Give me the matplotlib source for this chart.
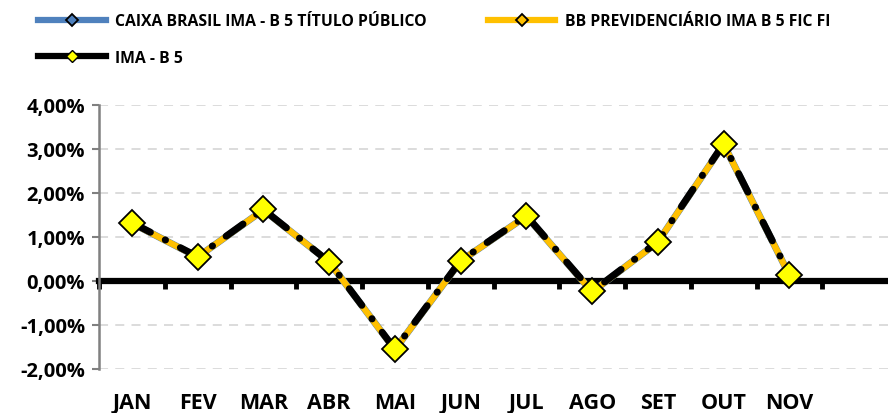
import matplotlib.pyplot as plt
from matplotlib.lines import Line2D
from matplotlib.ticker import FuncFormatter, FixedLocator
import matplotlib.transforms as mtransforms

plt.rcParams['font.family'] = ['Open Sans', 'DejaVu Sans']
plt.rcParams['font.weight'] = 'bold'

# data (monthly returns, %)
months = ['JAN', 'FEV', 'MAR', 'ABR', 'MAI', 'JUN', 'JUL', 'AGO', 'SET', 'OUT', 'NOV']
caixa = [1.31, 0.54, 1.61, 0.43, -1.56, 0.45, 1.47, -0.25, 0.88, 3.10, 0.13]
bb = [1.31, 0.54, 1.61, 0.43, -1.56, 0.45, 1.47, -0.25, 0.88, 3.10, 0.13]
ima = [1.32, 0.55, 1.62, 0.43, -1.55, 0.46, 1.48, -0.24, 0.89, 3.11, 0.14]
n_slots = 12  # DEZ slot left empty

blue = '#4f81bd'
gold = '#ffc000'
dashdot = (0, (3.0, 2.4, 0.05, 2.4))

fig = plt.figure(figsize=(8.88, 4.14), dpi=100)
ax = fig.add_axes([0.1115, 0.1063, 0.8885, 0.6387])

x = list(range(len(months)))
ax.plot(x, caixa, color=blue, lw=5.0, solid_capstyle='round', zorder=3)
ax.plot(x, bb, color=gold, lw=4.5, solid_capstyle='round', zorder=4)
ax.plot(x, ima, color='black', lw=5.0, linestyle=dashdot, dash_capstyle='round', zorder=5)
ax.plot(x, ima, linestyle='none', marker='D', markersize=13, markerfacecolor='#ffff00',
        markeredgecolor='black', markeredgewidth=1.3, zorder=6)

ax.set_xlim(-0.5, n_slots - 0.5)
ax.set_ylim(-2, 4)

# grid
for v in [-2, -1, 1, 2, 3, 4]:
    ax.axhline(v, color='#d9d9d9', lw=1.3, linestyle=(0, (5, 4)), zorder=1)

# y axis
ax.set_yticks([-2, -1, 0, 1, 2, 3, 4])
ax.yaxis.set_major_formatter(FuncFormatter(lambda v, p: ('%.2f%%' % v).replace('.', ',')))
ax.tick_params(axis='y', direction='out', length=5, width=1.5, color='#808080',
               labelsize=14.5, pad=5)
for lab in ax.get_yticklabels():
    lab.set_fontweight('bold')
ax.spines['left'].set_color('#808080')
ax.spines['left'].set_linewidth(1.8)
ax.spines['right'].set_visible(False)
ax.spines['top'].set_visible(False)

# x axis on zero line
ax.spines['bottom'].set_position(('data', 0))
ax.spines['bottom'].set_linewidth(4.5)
ax.spines['bottom'].set_color('black')
ax.spines['bottom'].set_zorder(2)
ax.xaxis.set_major_locator(FixedLocator([i - 0.5 for i in range(n_slots)]))
ax.xaxis.set_major_formatter(FuncFormatter(lambda v, p: ''))
ax.tick_params(axis='x', direction='out', length=6, width=3.5, color='black')

trans = mtransforms.blended_transform_factory(ax.transData, ax.transAxes)
for i, m in enumerate(months):
    ax.text(i, -0.125, m, transform=trans, ha='center', va='center',
            fontsize=15.5, fontweight='bold')

# legend
h_caixa = Line2D([], [], color=blue, lw=4.5, marker='D', markersize=6,
                 markerfacecolor=blue, markeredgecolor='black', markeredgewidth=1.3)
h_ima = Line2D([], [], color='black', lw=4.5, marker='D', markersize=6,
               markerfacecolor='#ffff00', markeredgecolor='black', markeredgewidth=1)
h_bb = Line2D([], [], color=gold, lw=4.5, marker='D', markersize=6,
              markerfacecolor=gold, markeredgecolor='black', markeredgewidth=1.3)
fig.legend([h_caixa, h_ima, h_bb],
           ['CAIXA BRASIL IMA - B 5 TÍTULO PÚBLICO', 'IMA - B 5', 'BB PREVIDENCIÁRIO IMA B 5 FIC FI'],
           ncol=2, loc='upper left', bbox_to_anchor=(0.027, 1.0), frameon=False,
           prop={'weight': 'bold', 'size': 11.3}, handlelength=4.3, handletextpad=0.6,
           columnspacing=3.9, labelspacing=1.3)

fig.savefig('out.png', dpi=100)
